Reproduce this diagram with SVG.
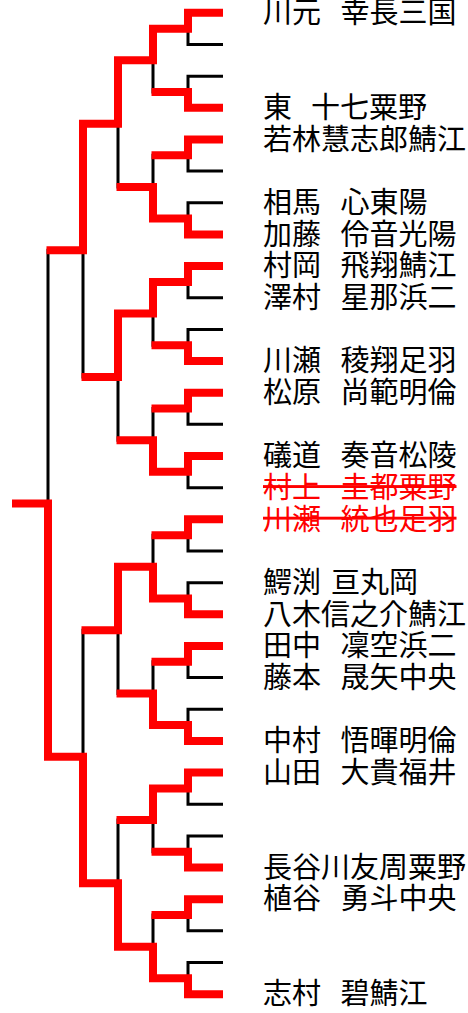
<svg xmlns="http://www.w3.org/2000/svg" width="468" height="1013" viewBox="0 0 468 1013">
<style>
.b{fill:none;stroke:#000;stroke-width:3;stroke-linejoin:miter}
.r{fill:none;stroke:#f00;stroke-width:8;stroke-linejoin:miter;stroke-linecap:butt}
text{font-family:"Noto Sans CJK JP","Noto Sans CJK SC",sans-serif;font-size:29px;fill:#000}
text.x{fill:#f00;text-decoration:line-through;word-spacing:13px}
</style>
<rect width="468" height="1013" fill="#fff"/>
<g id="connectors">
<g id="black">
<path class="b" d="M223,12.83H188V44.49H223M223,76.14H188V107.8H223M223,139.45H188V171.11H223M223,202.77H188V234.42H223M223,266.08H188V297.73H223M223,329.39H188V361.05H223M223,392.7H188V424.36H223M223,456.01H188V487.67H223M223,519.33H188V550.98H223M223,582.64H188V614.29H223M223,645.95H188V677.61H223M223,709.26H188V740.92H223M223,772.57H188V804.23H223M223,835.89H188V867.54H223M223,899.2H188V930.85H223M223,962.51H188V994.17H223"/>
<path class="b" d="M188,28.66H153V91.97H188M188,155.28H153V218.6H188M188,281.91H153V345.22H188M188,408.53H153V471.84H188M188,535.15H153V598.47H188M188,661.78H153V725.09H188M188,788.4H153V851.71H188M188,915.03H153V978.34H188"/>
<path class="b" d="M153,60.31H118V186.94H153M153,313.57H118V440.19H153M153,566.81H118V693.44H153M153,820.06H118V946.68H153"/>
<path class="b" d="M118,123.63H83V376.88H118M118,630.13H83V883.37H118"/>
<path class="b" d="M83,250.25H48V756.75H83"/>
</g>
<g id="red">
<path class="r" d="M223,12.83H188V28.66H153V60.31H118V123.63H83V250.25H46.5"/>
<path class="r" d="M223,107.8H188V91.97H151.5"/>
<path class="r" d="M223,139.45H188V155.28H151.5"/>
<path class="r" d="M223,234.42H188V218.6H153V186.94H116.5"/>
<path class="r" d="M223,266.08H188V281.91H153V313.57H118V376.88H81.5"/>
<path class="r" d="M223,361.05H188V345.22H151.5"/>
<path class="r" d="M223,392.7H188V408.53H151.5"/>
<path class="r" d="M223,456.01H188V471.84H153V440.19H116.5"/>
<path class="r" d="M223,519.33H188V535.15H151.5"/>
<path class="r" d="M223,614.29H188V598.47H153V566.81H118V630.13H81.5"/>
<path class="r" d="M223,645.95H188V661.78H151.5"/>
<path class="r" d="M223,740.92H188V725.09H153V693.44H116.5"/>
<path class="r" d="M223,772.57H188V788.4H153V820.06H116.5"/>
<path class="r" d="M223,867.54H188V851.71H151.5"/>
<path class="r" d="M223,899.2H188V915.03H151.5"/>
<path class="r" d="M223,994.17H188V978.34H153V946.68H118V883.37H83V756.75H48V503.5H12"/>
</g>
</g>
<g id="p0"><text x="263" y="23">川元 <tspan x="340.5">幸長三国</tspan></text></g>
<g id="p3"><text x="263" y="118">東 <tspan x="311">十七粟野</tspan></text></g>
<g id="p4"><text x="263" y="149.7">若林慧志郎鯖江</text></g>
<g id="p6"><text x="263" y="213">相馬 <tspan x="340.5">心東陽</tspan></text></g>
<g id="p7"><text x="263" y="244.6">加藤 <tspan x="340.5">伶音光陽</tspan></text></g>
<g id="p8"><text x="263" y="276.3">村岡 <tspan x="340.5">飛翔鯖江</tspan></text></g>
<g id="p9"><text x="263" y="307.9">澤村 <tspan x="340.5">星那浜二</tspan></text></g>
<g id="p11"><text x="263" y="371.2">川瀬 <tspan x="340.5">稜翔足羽</tspan></text></g>
<g id="p12"><text x="263" y="402.9">松原 <tspan x="340.5">尚範明倫</tspan></text></g>
<g id="p14"><text x="263" y="466.2">礒道 <tspan x="340.5">奏音松陵</tspan></text></g>
<g id="p15"><text class="x" x="263" y="497.9">村上 圭都粟野</text></g>
<g id="p16"><text class="x" x="263" y="529.5">川瀬 統也足羽</text></g>
<g id="p18"><text x="263" y="592.8">鰐渕 <tspan x="331">亘丸岡</tspan></text></g>
<g id="p19"><text x="263" y="624.5">八木信之介鯖江</text></g>
<g id="p20"><text x="263" y="656.2">田中 <tspan x="340.5">凜空浜二</tspan></text></g>
<g id="p21"><text x="263" y="687.8">藤本 <tspan x="340.5">晟矢中央</tspan></text></g>
<g id="p23"><text x="263" y="751.1">中村 <tspan x="340.5">悟暉明倫</tspan></text></g>
<g id="p24"><text x="263" y="782.8">山田 <tspan x="340.5">大貴福井</tspan></text></g>
<g id="p27"><text x="263" y="877.7">長谷川友周粟野</text></g>
<g id="p28"><text x="263" y="909.4">植谷 <tspan x="340.5">勇斗中央</tspan></text></g>
<g id="p31"><text x="263" y="1004.4">志村 <tspan x="340.5">碧鯖江</tspan></text></g>
</svg>
